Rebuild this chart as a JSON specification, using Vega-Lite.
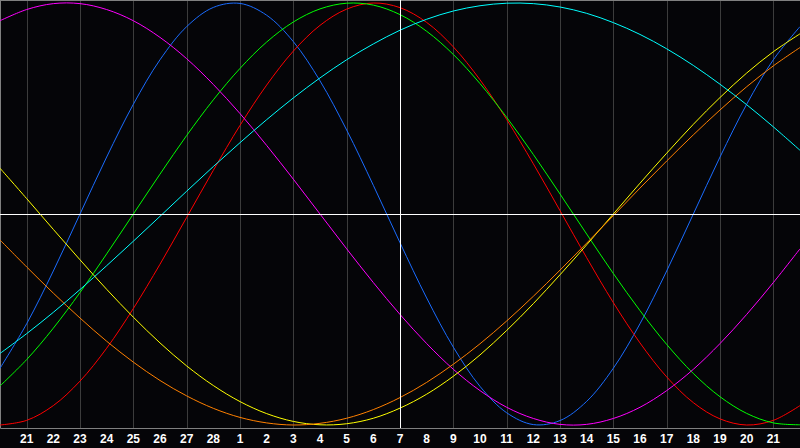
{
  "$schema": "https://vega.github.io/schema/vega-lite/v6.json",
  "width": 800,
  "height": 428,
  "autosize": {"type": "none"},
  "padding": {"left": 0, "top": 0, "right": 0, "bottom": 20},
  "background": "#050508",
  "config": {"view": {"stroke": null}, "font": "Liberation Sans"},
  "datasets": {
    "ticks": [
      {"day":1,"label":"21"},{"day":2,"label":"22"},{"day":3,"label":"23"},{"day":4,"label":"24"},{"day":5,"label":"25"},{"day":6,"label":"26"},{"day":7,"label":"27"},{"day":8,"label":"28"},{"day":9,"label":"1"},{"day":10,"label":"2"},{"day":11,"label":"3"},{"day":12,"label":"4"},{"day":13,"label":"5"},{"day":14,"label":"6"},{"day":15,"label":"7"},{"day":16,"label":"8"},{"day":17,"label":"9"},{"day":18,"label":"10"},{"day":19,"label":"11"},{"day":20,"label":"12"},{"day":21,"label":"13"},{"day":22,"label":"14"},{"day":23,"label":"15"},{"day":24,"label":"16"},{"day":25,"label":"17"},{"day":26,"label":"18"},{"day":27,"label":"19"},{"day":28,"label":"20"},{"day":29,"label":"21"}
    ]
  },
  "data": {"values": [
    {"day":0,"cycle":"physical","value":-0.731},{"day":1,"cycle":"physical","value":-0.520},{"day":2,"cycle":"physical","value":-0.270},{"day":3,"cycle":"physical","value":0},{"day":4,"cycle":"physical","value":0.270},{"day":5,"cycle":"physical","value":0.520},{"day":6,"cycle":"physical","value":0.731},{"day":7,"cycle":"physical","value":0.888},{"day":8,"cycle":"physical","value":0.979},{"day":9,"cycle":"physical","value":0.998},{"day":10,"cycle":"physical","value":0.942},{"day":11,"cycle":"physical","value":0.817},{"day":12,"cycle":"physical","value":0.631},{"day":13,"cycle":"physical","value":0.398},{"day":14,"cycle":"physical","value":0.136},{"day":15,"cycle":"physical","value":-0.136},{"day":16,"cycle":"physical","value":-0.398},{"day":17,"cycle":"physical","value":-0.631},{"day":18,"cycle":"physical","value":-0.817},{"day":19,"cycle":"physical","value":-0.942},{"day":20,"cycle":"physical","value":-0.998},{"day":21,"cycle":"physical","value":-0.979},{"day":22,"cycle":"physical","value":-0.888},{"day":23,"cycle":"physical","value":-0.731},{"day":24,"cycle":"physical","value":-0.520},{"day":25,"cycle":"physical","value":-0.270},{"day":26,"cycle":"physical","value":0},{"day":27,"cycle":"physical","value":0.270},{"day":28,"cycle":"physical","value":0.520},{"day":29,"cycle":"physical","value":0.731},{"day":30,"cycle":"physical","value":0.888},
    {"day":0,"cycle":"emotional","value":-1.000},{"day":1,"cycle":"emotional","value":-0.978},{"day":2,"cycle":"emotional","value":-0.908},{"day":3,"cycle":"emotional","value":-0.792},{"day":4,"cycle":"emotional","value":-0.636},{"day":5,"cycle":"emotional","value":-0.448},{"day":6,"cycle":"emotional","value":-0.238},{"day":7,"cycle":"emotional","value":-0.016},{"day":8,"cycle":"emotional","value":0.207},{"day":9,"cycle":"emotional","value":0.420},{"day":10,"cycle":"emotional","value":0.611},{"day":11,"cycle":"emotional","value":0.772},{"day":12,"cycle":"emotional","value":0.894},{"day":13,"cycle":"emotional","value":0.971},{"day":14,"cycle":"emotional","value":1.000},{"day":15,"cycle":"emotional","value":0.978},{"day":16,"cycle":"emotional","value":0.908},{"day":17,"cycle":"emotional","value":0.792},{"day":18,"cycle":"emotional","value":0.636},{"day":19,"cycle":"emotional","value":0.448},{"day":20,"cycle":"emotional","value":0.238},{"day":21,"cycle":"emotional","value":0.016},{"day":22,"cycle":"emotional","value":-0.207},{"day":23,"cycle":"emotional","value":-0.420},{"day":24,"cycle":"emotional","value":-0.611},{"day":25,"cycle":"emotional","value":-0.772},{"day":26,"cycle":"emotional","value":-0.894},{"day":27,"cycle":"emotional","value":-0.971},{"day":28,"cycle":"emotional","value":-1.000},{"day":29,"cycle":"emotional","value":-0.978},{"day":30,"cycle":"emotional","value":-0.908},
    {"day":0,"cycle":"intellectual","value":-0.815},{"day":1,"cycle":"intellectual","value":-0.690},{"day":2,"cycle":"intellectual","value":-0.541},{"day":3,"cycle":"intellectual","value":-0.372},{"day":4,"cycle":"intellectual","value":-0.189},{"day":5,"cycle":"intellectual","value":0},{"day":6,"cycle":"intellectual","value":0.189},{"day":7,"cycle":"intellectual","value":0.372},{"day":8,"cycle":"intellectual","value":0.541},{"day":9,"cycle":"intellectual","value":0.690},{"day":10,"cycle":"intellectual","value":0.815},{"day":11,"cycle":"intellectual","value":0.910},{"day":12,"cycle":"intellectual","value":0.972},{"day":13,"cycle":"intellectual","value":0.999},{"day":14,"cycle":"intellectual","value":0.990},{"day":15,"cycle":"intellectual","value":0.945},{"day":16,"cycle":"intellectual","value":0.866},{"day":17,"cycle":"intellectual","value":0.756},{"day":18,"cycle":"intellectual","value":0.618},{"day":19,"cycle":"intellectual","value":0.458},{"day":20,"cycle":"intellectual","value":0.282},{"day":21,"cycle":"intellectual","value":0.095},{"day":22,"cycle":"intellectual","value":-0.095},{"day":23,"cycle":"intellectual","value":-0.282},{"day":24,"cycle":"intellectual","value":-0.458},{"day":25,"cycle":"intellectual","value":-0.618},{"day":26,"cycle":"intellectual","value":-0.756},{"day":27,"cycle":"intellectual","value":-0.866},{"day":28,"cycle":"intellectual","value":-0.945},{"day":29,"cycle":"intellectual","value":-0.990},{"day":30,"cycle":"intellectual","value":-0.999},
    {"day":0,"cycle":"intuitive","value":0.916},{"day":1,"cycle":"intuitive","value":0.969},{"day":2,"cycle":"intuitive","value":0.997},{"day":3,"cycle":"intuitive","value":0.997},{"day":4,"cycle":"intuitive","value":0.969},{"day":5,"cycle":"intuitive","value":0.916},{"day":6,"cycle":"intuitive","value":0.837},{"day":7,"cycle":"intuitive","value":0.736},{"day":8,"cycle":"intuitive","value":0.614},{"day":9,"cycle":"intuitive","value":0.476},{"day":10,"cycle":"intuitive","value":0.325},{"day":11,"cycle":"intuitive","value":0.165},{"day":12,"cycle":"intuitive","value":0},{"day":13,"cycle":"intuitive","value":-0.165},{"day":14,"cycle":"intuitive","value":-0.325},{"day":15,"cycle":"intuitive","value":-0.476},{"day":16,"cycle":"intuitive","value":-0.614},{"day":17,"cycle":"intuitive","value":-0.736},{"day":18,"cycle":"intuitive","value":-0.837},{"day":19,"cycle":"intuitive","value":-0.916},{"day":20,"cycle":"intuitive","value":-0.969},{"day":21,"cycle":"intuitive","value":-0.997},{"day":22,"cycle":"intuitive","value":-0.997},{"day":23,"cycle":"intuitive","value":-0.969},{"day":24,"cycle":"intuitive","value":-0.916},{"day":25,"cycle":"intuitive","value":-0.837},{"day":26,"cycle":"intuitive","value":-0.736},{"day":27,"cycle":"intuitive","value":-0.614},{"day":28,"cycle":"intuitive","value":-0.476},{"day":29,"cycle":"intuitive","value":-0.325},{"day":30,"cycle":"intuitive","value":-0.165},
    {"day":0,"cycle":"aesthetic","value":0.217},{"day":1,"cycle":"aesthetic","value":0.073},{"day":2,"cycle":"aesthetic","value":-0.073},{"day":3,"cycle":"aesthetic","value":-0.217},{"day":4,"cycle":"aesthetic","value":-0.357},{"day":5,"cycle":"aesthetic","value":-0.489},{"day":6,"cycle":"aesthetic","value":-0.611},{"day":7,"cycle":"aesthetic","value":-0.720},{"day":8,"cycle":"aesthetic","value":-0.813},{"day":9,"cycle":"aesthetic","value":-0.889},{"day":10,"cycle":"aesthetic","value":-0.946},{"day":11,"cycle":"aesthetic","value":-0.983},{"day":12,"cycle":"aesthetic","value":-0.999},{"day":13,"cycle":"aesthetic","value":-0.994},{"day":14,"cycle":"aesthetic","value":-0.968},{"day":15,"cycle":"aesthetic","value":-0.920},{"day":16,"cycle":"aesthetic","value":-0.854},{"day":17,"cycle":"aesthetic","value":-0.769},{"day":18,"cycle":"aesthetic","value":-0.668},{"day":19,"cycle":"aesthetic","value":-0.552},{"day":20,"cycle":"aesthetic","value":-0.425},{"day":21,"cycle":"aesthetic","value":-0.288},{"day":22,"cycle":"aesthetic","value":-0.146},{"day":23,"cycle":"aesthetic","value":0},{"day":24,"cycle":"aesthetic","value":0.146},{"day":25,"cycle":"aesthetic","value":0.288},{"day":26,"cycle":"aesthetic","value":0.425},{"day":27,"cycle":"aesthetic","value":0.552},{"day":28,"cycle":"aesthetic","value":0.668},{"day":29,"cycle":"aesthetic","value":0.769},{"day":30,"cycle":"aesthetic","value":0.854},
    {"day":0,"cycle":"awareness","value":-0.123},{"day":1,"cycle":"awareness","value":-0.251},{"day":2,"cycle":"awareness","value":-0.375},{"day":3,"cycle":"awareness","value":-0.493},{"day":4,"cycle":"awareness","value":-0.603},{"day":5,"cycle":"awareness","value":-0.702},{"day":6,"cycle":"awareness","value":-0.789},{"day":7,"cycle":"awareness","value":-0.862},{"day":8,"cycle":"awareness","value":-0.921},{"day":9,"cycle":"awareness","value":-0.964},{"day":10,"cycle":"awareness","value":-0.990},{"day":11,"cycle":"awareness","value":-1.000},{"day":12,"cycle":"awareness","value":-0.992},{"day":13,"cycle":"awareness","value":-0.968},{"day":14,"cycle":"awareness","value":-0.927},{"day":15,"cycle":"awareness","value":-0.870},{"day":16,"cycle":"awareness","value":-0.798},{"day":17,"cycle":"awareness","value":-0.712},{"day":18,"cycle":"awareness","value":-0.615},{"day":19,"cycle":"awareness","value":-0.507},{"day":20,"cycle":"awareness","value":-0.390},{"day":21,"cycle":"awareness","value":-0.266},{"day":22,"cycle":"awareness","value":-0.138},{"day":23,"cycle":"awareness","value":-0.008},{"day":24,"cycle":"awareness","value":0.123},{"day":25,"cycle":"awareness","value":0.251},{"day":26,"cycle":"awareness","value":0.375},{"day":27,"cycle":"awareness","value":0.493},{"day":28,"cycle":"awareness","value":0.603},{"day":29,"cycle":"awareness","value":0.702},{"day":30,"cycle":"awareness","value":0.789},
    {"day":0,"cycle":"spiritual","value":-0.661},{"day":1,"cycle":"spiritual","value":-0.567},{"day":2,"cycle":"spiritual","value":-0.466},{"day":3,"cycle":"spiritual","value":-0.358},{"day":4,"cycle":"spiritual","value":-0.245},{"day":5,"cycle":"spiritual","value":-0.129},{"day":6,"cycle":"spiritual","value":-0.011},{"day":7,"cycle":"spiritual","value":0.108},{"day":8,"cycle":"spiritual","value":0.225},{"day":9,"cycle":"spiritual","value":0.338},{"day":10,"cycle":"spiritual","value":0.447},{"day":11,"cycle":"spiritual","value":0.550},{"day":12,"cycle":"spiritual","value":0.645},{"day":13,"cycle":"spiritual","value":0.731},{"day":14,"cycle":"spiritual","value":0.806},{"day":15,"cycle":"spiritual","value":0.871},{"day":16,"cycle":"spiritual","value":0.923},{"day":17,"cycle":"spiritual","value":0.962},{"day":18,"cycle":"spiritual","value":0.987},{"day":19,"cycle":"spiritual","value":0.999},{"day":20,"cycle":"spiritual","value":0.997},{"day":21,"cycle":"spiritual","value":0.981},{"day":22,"cycle":"spiritual","value":0.951},{"day":23,"cycle":"spiritual","value":0.907},{"day":24,"cycle":"spiritual","value":0.851},{"day":25,"cycle":"spiritual","value":0.783},{"day":26,"cycle":"spiritual","value":0.704},{"day":27,"cycle":"spiritual","value":0.615},{"day":28,"cycle":"spiritual","value":0.518},{"day":29,"cycle":"spiritual","value":0.413},{"day":30,"cycle":"spiritual","value":0.302}
  ]},
  "layer": [
    {
      "mark": {"type": "line", "interpolate": "catmull-rom", "strokeWidth": 1},
      "encoding": {
        "x": {
          "field": "day",
          "type": "quantitative",
          "scale": {"domain": [0, 30], "nice": false, "zero": false},
          "axis": {
            "title": null,
            "values": [1,2,3,4,5,6,7,8,9,10,11,12,13,14,15,16,17,18,19,20,21,22,23,24,25,26,27,28,29],
            "labels": false,
            "grid": true,
            "gridColor": "#3c3c3c",
            "gridWidth": 1,
            "ticks": false,
            "domain": true,
            "domainColor": "#808080"
          }
        },
        "y": {
          "field": "value",
          "type": "quantitative",
          "scale": {"domain": [-1.0142, 1.0142], "nice": false, "zero": false},
          "axis": {"title": null, "labels": false, "ticks": false, "grid": false, "domain": true, "domainColor": "#808080"}
        },
        "color": {
          "field": "cycle",
          "type": "nominal",
          "scale": {
            "domain": ["physical", "emotional", "intellectual", "intuitive", "aesthetic", "awareness", "spiritual"],
            "range": ["#1a6cff", "#ff0000", "#00ff00", "#ff00ff", "#ffff00", "#ff8000", "#00ffff"]
          },
          "legend": null
        }
      }
    },
    {
      "mark": {"type": "rule", "color": "#808080", "strokeWidth": 1, "yOffset": 0.5},
      "encoding": {"y": {"datum": 1.0142}}
    },
    {
      "mark": {"type": "rule", "color": "#ffffff", "strokeWidth": 1, "yOffset": 0.5},
      "encoding": {"y": {"datum": 0}}
    },
    {
      "mark": {"type": "rule", "color": "#ffffff", "strokeWidth": 1, "xOffset": 0.5},
      "encoding": {"x": {"datum": 15}}
    },
    {
      "data": {"name": "ticks"},
      "mark": {"type": "text", "color": "#ffffff", "font": "Liberation Sans", "fontSize": 12, "fontWeight": "bold", "align": "center", "baseline": "top", "dy": 6, "clip": false},
      "encoding": {
        "x": {"field": "day", "type": "quantitative"},
        "y": {"datum": -1.0142},
        "text": {"field": "label", "type": "nominal"}
      }
    }
  ]
}
